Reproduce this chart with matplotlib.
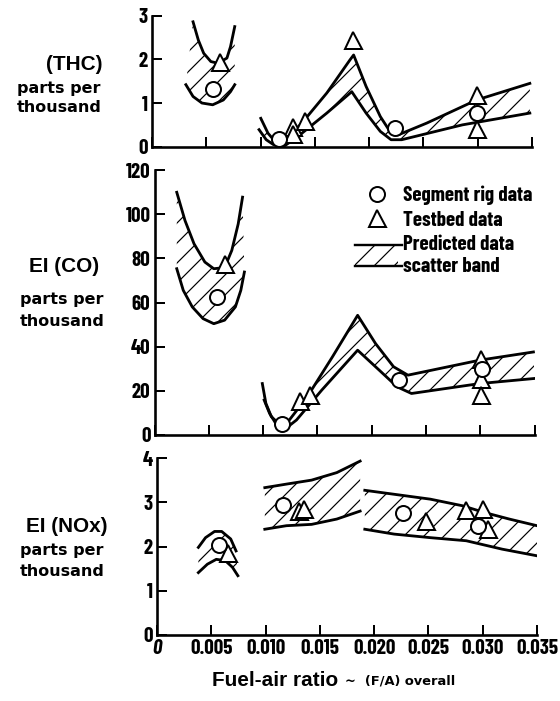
import numpy as np
import matplotlib
matplotlib.use("Agg")
import matplotlib.pyplot as plt
from matplotlib.font_manager import FontProperties
from matplotlib.legend_handler import HandlerBase
from matplotlib.patches import Rectangle
from matplotlib.lines import Line2D

# ---------------- data ----------------
x_ticks = [0, 0.005, 0.010, 0.015, 0.020, 0.025, 0.030, 0.035]
x_tick_labels = ["0", "0.005", "0.010", "0.015", "0.020", "0.025", "0.030", "0.035"]

# THC, low-power band
thc_lo_upper_x = [0.00378, 0.00427, 0.00476, 0.00542, 0.00608, 0.0069, 0.00723, 0.00762]
thc_lo_upper_y = [2.86, 2.44, 2.14, 1.95, 1.91, 2.03, 2.29, 2.75]
thc_lo_lower_x = [0.00312, 0.00378, 0.0046, 0.00559, 0.00657, 0.00723, 0.00762]
thc_lo_lower_y = [1.42, 1.15, 1.00, 0.96, 1.07, 1.26, 1.42]
# THC, main band
thc_hi_upper_x = [0.01002, 0.01068, 0.01134, 0.01216, 0.0138, 0.0161, 0.01824, 0.01857,
                  0.01972, 0.02103, 0.02202, 0.02267, 0.0253, 0.0299, 0.0348]
thc_hi_upper_y = [0.65, 0.31, 0.12, 0.12, 0.54, 1.23, 1.99, 2.10,
                  1.38, 0.69, 0.31, 0.27, 0.54, 1.07, 1.45]
thc_hi_lower_x = [0.00986, 0.01052, 0.01117, 0.01216, 0.01347, 0.0161, 0.0184,
                  0.01972, 0.02103, 0.02202, 0.0230, 0.02859, 0.0348]
thc_hi_lower_y = [0.39, 0.16, 0.05, 0.01, 0.24, 0.77, 1.26,
                  0.77, 0.35, 0.16, 0.16, 0.50, 0.77]
thc_rig_x = [0.00559, 0.01167, 0.0224, 0.0299]
thc_rig_y = [1.32, 0.18, 0.43, 0.77]
thc_bed_x = [0.00624, 0.0130, 0.0130, 0.0141, 0.0185, 0.0299, 0.0299]
thc_bed_y = [1.95, 0.45, 0.30, 0.58, 2.45, 1.19, 0.40]

# CO, low-power band
co_lo_upper_x = [0.00205, 0.00281, 0.00364, 0.00464, 0.00546, 0.00646, 0.00712, 0.00771, 0.00811]
co_lo_upper_y = [109.9, 97.1, 86.6, 78.3, 75.3, 75.8, 83.6, 95.6, 107.7]
co_lo_lower_x = [0.00205, 0.00265, 0.00348, 0.00447, 0.00546, 0.00646, 0.00745, 0.00795, 0.00828]
co_lo_lower_y = [75.3, 65.5, 58.0, 52.7, 50.4, 52.0, 58.0, 65.5, 73.8]
# CO, main band
co_hi_upper_x = [0.00993, 0.01026, 0.01076, 0.01159, 0.01242, 0.01407, 0.01639, 0.01871,
                 0.02036, 0.02202, 0.02334, 0.02997, 0.0349]
co_hi_upper_y = [23.3, 14.3, 8.3, 4.5, 6.8, 17.3, 35.4, 54.2,
                 41.4, 30.9, 27.1, 33.9, 37.6]
co_hi_lower_x = [0.0101, 0.0106, 0.01126, 0.01192, 0.01308, 0.0154, 0.01871,
                 0.02069, 0.02235, 0.02367, 0.02997, 0.0350]
co_hi_lower_y = [15.8, 9.8, 4.5, 2.3, 6.8, 20.3, 38.4,
                 29.4, 21.8, 18.8, 23.3, 25.6]
co_rig_x = [0.00573, 0.01175, 0.02252, 0.03013]
co_rig_y = [62.5, 5.0, 24.9, 30.1]
co_bed_x = [0.00646, 0.0134, 0.0143, 0.0301, 0.0301, 0.0301]
co_bed_y = [77.6, 15.5, 18.0, 34.5, 25.5, 18.0]

# NOx, low-power band
nox_lo_upper_x = [0.00381, 0.00447, 0.0053, 0.00596, 0.00679, 0.00728]
nox_lo_upper_y = [1.98, 2.20, 2.34, 2.34, 2.17, 1.90]
nox_lo_lower_x = [0.00381, 0.00464, 0.00546, 0.00629, 0.00695, 0.00745]
nox_lo_lower_y = [1.41, 1.60, 1.71, 1.68, 1.53, 1.34]
# NOx, mid band
nox_mid_upper_x = [0.00993, 0.01192, 0.01424, 0.01656, 0.01871]
nox_mid_upper_y = [3.33, 3.41, 3.50, 3.67, 3.93]
nox_mid_lower_x = [0.00993, 0.01192, 0.01424, 0.01656, 0.01871]
nox_mid_lower_y = [2.39, 2.47, 2.50, 2.62, 2.80]
# NOx, high band
nox_hi_upper_x = [0.01914, 0.02185, 0.02517, 0.02815, 0.03013, 0.03245, 0.0350]
nox_hi_upper_y = [3.27, 3.18, 3.07, 2.92, 2.77, 2.62, 2.47]
nox_hi_lower_x = [0.01914, 0.02185, 0.02517, 0.02848, 0.03179, 0.0350]
nox_hi_lower_y = [2.39, 2.28, 2.20, 2.13, 1.94, 1.79]
nox_rig_x = [0.0057, 0.0116, 0.0227, 0.0296]
nox_rig_y = [2.04, 2.93, 2.75, 2.47]
nox_bed_x = [0.0065, 0.0131, 0.0135, 0.0248, 0.0285, 0.0300, 0.0305]
nox_bed_y = [1.86, 2.80, 2.85, 2.58, 2.82, 2.85, 2.40]

legend_labels = ["Segment rig data", "Testbed data", "Predicted data\nscatter band"]

# ---------------- page setup ----------------
W, H = 560, 701
DPI = 120


def pt(px):
    """Pixel size -> points at the figure dpi."""
    return px * 72.0 / DPI


COND = ["Barlow Condensed", "DejaVu Sans"]
WIDE = ["Liberation Sans", "DejaVu Sans"]
GEOM = ["DejaVu Sans"]

plt.rcParams["hatch.linewidth"] = pt(1.2)
plt.rcParams["font.family"] = COND
plt.rcParams["font.weight"] = "bold"

fig = plt.figure(figsize=(W / DPI, H / DPI), dpi=DPI)
fig.patch.set_facecolor("white")


def px_axes(left, top, bottom, right):
    return fig.add_axes([left / W, 1 - bottom / H, (right - left) / W, (bottom - top) / H])


ax_thc = px_axes(152, 15.7, 146.7, 532)
ax_co = px_axes(154.5, 170, 435, 534.5)
ax_nox = px_axes(157, 458, 635, 537)

tick_font = FontProperties(family=COND, weight="bold", size=pt(21))
LW = pt(2.8)


def style(ax, ymax, ystep, show_x):
    ax.set_xlim(0, 0.035)
    ax.set_ylim(0, ymax)
    for s in ("top", "right"):
        ax.spines[s].set_visible(False)
    for s in ("left", "bottom"):
        ax.spines[s].set_linewidth(pt(2.6))
    ax.set_xticks(x_ticks)
    ax.set_yticks(np.arange(0, ymax + ystep / 2, ystep))
    ax.tick_params(direction="in", length=pt(10), width=pt(2.0), pad=pt(4))
    if show_x:
        ax.set_xticklabels(x_tick_labels)
    else:
        ax.set_xticklabels([])
    for lab in ax.get_xticklabels() + ax.get_yticklabels():
        lab.set_fontproperties(tick_font)
    if show_x:
        ax.get_xticklabels()[0].set_style("italic")


def band(ax, xu, yu, xl, yl):
    px = np.r_[xu, xl[::-1]]
    py = np.r_[yu, yl[::-1]]
    ax.fill(px, py, facecolor="none", edgecolor="black", hatch="//", linewidth=0)
    ax.plot(xu, yu, color="black", lw=LW)
    ax.plot(xl, yl, color="black", lw=LW)


MK = dict(ls="none", mfc="white", mec="black", mew=pt(2.0))


def points(ax, xr, yr, xb, yb):
    ax.plot(xb, yb, marker="^", ms=pt(17), zorder=5, **MK)
    ax.plot(xr, yr, marker="o", ms=pt(15), zorder=6, **MK)


band(ax_thc, thc_lo_upper_x, thc_lo_upper_y, thc_lo_lower_x, thc_lo_lower_y)
band(ax_thc, thc_hi_upper_x, thc_hi_upper_y, thc_hi_lower_x, thc_hi_lower_y)
points(ax_thc, thc_rig_x, thc_rig_y, thc_bed_x, thc_bed_y)

band(ax_co, co_lo_upper_x, co_lo_upper_y, co_lo_lower_x, co_lo_lower_y)
band(ax_co, co_hi_upper_x, co_hi_upper_y, co_hi_lower_x, co_hi_lower_y)
points(ax_co, co_rig_x, co_rig_y, co_bed_x, co_bed_y)

band(ax_nox, nox_lo_upper_x, nox_lo_upper_y, nox_lo_lower_x, nox_lo_lower_y)
band(ax_nox, nox_mid_upper_x, nox_mid_upper_y, nox_mid_lower_x, nox_mid_lower_y)
band(ax_nox, nox_hi_upper_x, nox_hi_upper_y, nox_hi_lower_x, nox_hi_lower_y)
points(ax_nox, nox_rig_x, nox_rig_y, nox_bed_x, nox_bed_y)

style(ax_thc, 3, 1, False)
style(ax_co, 120, 20, False)
style(ax_nox, 4, 1, True)


# ---------------- legend ----------------
class ScatterBand:
    pass


class ScatterBandHandler(HandlerBase):
    def create_artists(self, legend, orig_handle, xdescent, ydescent,
                       width, height, fontsize, trans):
        cy = height / 2 - ydescent
        half = pt(10.5)
        x0 = -xdescent
        rect = Rectangle((x0, cy - half), width, 2 * half, facecolor="none",
                         edgecolor="black", hatch="//", lw=0, transform=trans)
        top = Line2D([x0, x0 + width + pt(4)], [cy + half] * 2, color="black",
                     lw=pt(2.4), transform=trans)
        bot = Line2D([x0, x0 + width + pt(4)], [cy - half] * 2, color="black",
                     lw=pt(2.4), transform=trans)
        return [rect, top, bot]


h_rig = Line2D([], [], marker="o", ms=pt(15), **MK)
h_bed = Line2D([], [], marker="^", ms=pt(17), **MK)
h_band = ScatterBand()
ax_co.legend([h_rig, h_bed, h_band], legend_labels,
             handler_map={ScatterBand: ScatterBandHandler()},
             loc="upper left", bbox_to_anchor=(0.5276, 0.94),
             frameon=False, borderpad=0, borderaxespad=0,
             handlelength=2.05, handletextpad=0.25, labelspacing=0.25,
             prop=FontProperties(family=COND, weight="bold", size=pt(21)))


# ---------------- axis titles ----------------
def ftext(x, y, s, **kw):
    fig.text(x / W, 1 - y / H, s, ha="center", va="center", **kw)


big = dict(family=WIDE, weight="bold", size=pt(20.8))
small = dict(family=GEOM, weight="bold", size=pt(16))

ftext(74, 65, "(THC)", **big)
ftext(59, 88, "parts per", **small)
ftext(59, 107, "thousand", **small)

ftext(64, 267, "EI (CO)", **big)
ftext(62, 300, "parts per", **small)
ftext(62, 321, "thousand", **small)

ftext(67, 526, "EI (NOx)", **big)
ftext(62, 550, "parts per", **small)
ftext(62, 571, "thousand", **small)

fig.text(212 / W, 1 - 680 / H, "Fuel-air ratio", ha="left", va="center", **big)
fig.text(345 / W, 1 - 681 / H, "~  (F/A) overall", ha="left", va="center",
         family=GEOM, weight="bold", size=pt(13))

fig.savefig("out.png", dpi=DPI, facecolor="white")
